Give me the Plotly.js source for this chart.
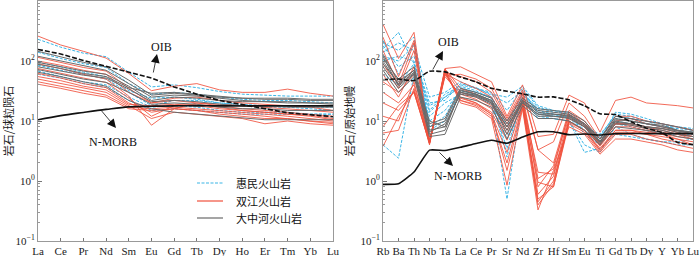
<!DOCTYPE html>
<html><head><meta charset="utf-8">
<script src="https://cdn.plot.ly/plotly-3.0.1.min.js"></script>
<style>html,body{margin:0;padding:0;background:#fff}#c{width:700px;height:256px}</style>
</head><body><div id="c"></div>
<script>
// ---- categories ----
const reeCats = ["La","Ce","Pr","Nd","Sm","Eu","Gd","Tb","Dy","Ho","Er","Tm","Yb","Lu"];
const spiderCats = ["Rb","Ba","Th","Nb","Ta","La","Ce","Pr","Sr","Nd","Zr","Hf","Sm","Eu","Ti","Gd","Tb","Dy","Y","Yb","Lu"];
const groupNames = ["惠民火山岩","双江火山岩","大中河火山岩"];
const yTickVals = [0.1,1,10,100,1000];
const yTickText = ["10<sup>−1</sup>","10<sup>0</sup>","10<sup>1</sup>","10<sup>2</sup>","10<sup>3</sup>"];

// ---- reference curves ----
const oibREE   = [156,131,102,82,65,52,37,28,22,18.7,15.8,13.7,12.7,11.8];
const nmorbREE = [10.5,12.3,13.9,15.6,17.2,17.6,17.9,17.9,17.9,17.8,17.9,17.9,17.9,17.9];
const oibPM    = [48.8,50.1,47.1,67.3,65.9,53.9,45.1,35.1,31.3,28.4,25.0,25.2,22.5,17.9,13.2,12.8,9.7,7.6,6.4,4.4,4.05];
const nmorbPM  = [0.88,0.90,1.41,3.27,3.22,3.64,4.23,4.78,4.27,5.39,6.61,6.63,5.92,6.07,5.85,6.17,6.2,6.17,6.15,6.19,6.15];

// ---- REE samples ----
const huiminREE = [
 [230,170,135,118,65,37,40,36,31,28,27,26,26,26],
 [95,80,65,55,32,24,25,23,20,18,17,17,16,15],
 [68,55,45,40,25,17,18,17,15,14,14,14,13,13],
 [60,52,42,36,22,15,16,15,14,13,13,13,13,13],
 [85,70,60,50,30,18,22,22,20,19,18,18,17,17],
 [140,110,90,78,42,28,30,28,25,23,22,22,21,20]
];
const shuangjiangREE = [
 [260,185,145,112,62,32,38,42,33,30,30,34,29,26],
 [115,95,78,68,35,20,24,25,22,20,19,18,17,15],
 [90,75,60,50,26,8.5,16,20,18,16,15,14,13,12],
 [75,62,52,44,24,12,18,19,17,15,14,13,12.5,11],
 [62,52,42,36,20,14,16,15,13,12,11,11,10,9.5],
 [55,47,38,33,19,18,19,18,16,15,14,13,12,10.5],
 [50,42,35,30,18,11,14,13,12,11,9,10,9,8.5],
 [45,38,32,27,17,16,17,16,15,14,13,12,11,10],
 [41,35,29,25,16,15,16,15,14,13,12,11,10,9],
 [100,85,70,60,30,20,22,20,19,18,17,16,15,14]
];
const dazhongheREE = [
 [145,118,95,80,48,27,29,27,25,24,23,23,22,22],
 [95,80,68,60,38,22,25,24,22,21,21,20,20,20],
 [80,68,58,52,34,21,22,21,19,18,18,17,17,17],
 [72,60,50,44,30,19,20,19,17,16,16,15,15,15],
 [120,100,82,70,42,25,27,26,24,22,21,21,20,19],
 [65,55,45,38,22,16,14,13,12,11,10.5,10.5,10.5,10.5],
 [88,75,62,55,36,29,30,28,26,24,24,24,23,23]
];

// ---- spider samples ----
const huiminPM = [
 [160,300,90,18,25,40,35,28,25,38,18,15,14,9,5.5,13,12,10,9,8,7],
 [200,150,250,8,12,35,30,25,8,30,15,13,12,8,4.5,10,9,8,7,6,6],
 [120,100,180,25,30,45,35,30,15,35,17,14,14,6,4,11,10,9,8,7,6.5],
 [4,2.4,60,12,20,28,26,20,0.5,25,12,11,10,3,3.5,6,5.5,5,4.5,4.5,5],
 [140,200,150,15,28,38,32,24,2.5,30,16,15,13,7,5,12,11,10,8,7.5,7],
 [100,120,100,10,15,32,28,22,5,28,14,13,11,7,4,9,8,7,6,6,5.5],
 [180,80,120,20,22,42,36,27,20,32,13,12,12,8,6,12,11,9,8,8,7.5],
 [220,60,200,7,10,30,27,20,3.5,25,11,11,10,4,3,8,6,5,4.5,4,4],
 [60,40,90,14,25,36,30,25,10,28,14,12,12,9,5,14,13,11,9,7,6]
];
const shuangjiangPM = [
 [410,110,300,4.5,75,80,60,45,12,40,5.5,6,27,20,6.5,22,25,20,19,18,16.5],
 [150,40,200,4.3,65,55,45,30,10,30,3.3,2,15,10,4.5,10,11,9,8,7,6],
 [45,30,60,4.2,70,30,25,18,8,22,1.4,1.3,12,8,4,9,9,8,7,6,5.5],
 [20,15,30,4.3,60,25,20,14,4.8,20,0.95,0.8,10,7,3.5,7,7,6,5.5,5,4.5],
 [6.3,7,35,4.0,72,22,18,12,2,18,0.5,0.8,9,6.5,3,6,6,5,4.5,4,3.5],
 [3.8,12,32,4.4,68,20,17,11,0.85,16,0.33,1.5,8,6,2.8,5,5,4.5,4,3.3,3],
 [90,35,150,4.5,62,45,35,25,9,28,1.1,1.6,14,9,4.2,9,9,8,7.5,6.5,5.5],
 [30,20,40,4.6,55,28,23,16,6,22,0.4,0.9,11,8,3.8,8,8,7,6,5.5,5],
 [60,25,80,4.3,74,35,28,20,7,25,0.8,1.8,13,8.5,4,9,8.5,7.5,6.5,6,5],
 [12,10,45,4.4,66,22,19,13,3,19,0.6,1.2,10,7,3.3,7,7,6.5,6,5,4],
 [250,55,220,4.8,58,60,50,35,11,33,3.3,4.5,20,12,5,12,12,10,9,8,7],
 [8,18,30,4.2,64,24,20,13,1.5,17,0.45,1.0,9.5,7,3.2,6.5,6.5,6,5,4.5,4]
];
const dazhonghePM = [
 [130,45,70,6,7,32,28,22,9,22,15,14,13,9,5,11,10,9,8,7,6.5],
 [100,40,65,7,8,30,26,20,8,20,13,13,12,8.5,4.5,10,9,8,7.5,6.5,6],
 [80,35,60,6.5,9,28,25,19,7,20,12,12,11,8,4.2,9,8.5,7.5,7,6,5.5],
 [110,50,80,9,11,35,30,24,10,24,16,15,14,10,5,12,11,10,9,8,7],
 [70,30,55,5.5,6,25,22,17,5,18,11,11,10,7,4,8,7.5,7,6.5,5.5,5],
 [90,42,70,8,10,33,28,22,6,22,14,13,12.5,9,4.6,10.5,10,9,8.5,7,6.5],
 [120,38,62,10,8,30,27,21,8,21,13,12,11.5,8,4.4,9.5,9,8,7.5,6.8,6.2]
];

// ---- styles ----
const styles = [
  {color:"#3ab5e6", width:1, dash:"3px,1.5px"},
  {color:"#f0503c", width:1, dash:"solid"},
  {color:"#6a6a6a", width:1, dash:"solid"}
];

const traces = [];
function addGroup(rows, cats, gi, xa, ya){
  rows.forEach((r,i)=>{
    traces.push({x:cats, y:r, xaxis:xa, yaxis:ya, mode:"lines", type:"scatter",
      line:styles[gi], opacity: gi===1 ? 0.85 : 1, name:groupNames[gi], showlegend:false, hoverinfo:"skip"});
  });
}
addGroup(huiminREE, reeCats, 0, "x", "y");
addGroup(shuangjiangREE, reeCats, 1, "x", "y");
addGroup(dazhongheREE, reeCats, 2, "x", "y");
addGroup(huiminPM, spiderCats, 0, "x2", "y2");
addGroup(shuangjiangPM, spiderCats, 1, "x2", "y2");
addGroup(dazhonghePM, spiderCats, 2, "x2", "y2");

traces.push({x:reeCats, y:oibREE, xaxis:"x", yaxis:"y", mode:"lines", line:{color:"#111",width:1.6,dash:"5px,2px"}, showlegend:false});
traces.push({x:reeCats, y:nmorbREE, xaxis:"x", yaxis:"y", mode:"lines", line:{color:"#111",width:1.6,shape:"spline"}, showlegend:false});
traces.push({x:spiderCats, y:oibPM, xaxis:"x2", yaxis:"y2", mode:"lines", line:{color:"#111",width:1.6,dash:"5px,2px",shape:"spline",smoothing:0.5}, showlegend:false});
traces.push({x:spiderCats, y:nmorbPM, xaxis:"x2", yaxis:"y2", mode:"lines", line:{color:"#111",width:1.6,shape:"spline",smoothing:0.4}, showlegend:false});

const serif = "Liberation Serif, Times New Roman, serif";
const cjk = "Noto Sans CJK SC";
const minorVals = [];
[0.1,1,10,100].forEach(d=>{for(let k=2;k<=9;k++) minorVals.push(d*k);});

function xAxis(cats, dom, anchor){
  return {domain:dom, anchor:anchor, type:"category", categoryarray:cats,
    range:[0, cats.length-1], showline:true, mirror:true, linecolor:"#999", linewidth:1,
    ticks:"inside", ticklen:3, tickcolor:"#777", showgrid:false, zeroline:false, tickangle:0,
    tickfont:{family:serif, size:11, color:"#222"}, fixedrange:true};
}
function yAxis(title, anchor){
  return {type:"log", range:[-1,3], anchor:anchor, showline:true, mirror:true, linecolor:"#999", linewidth:1,
    tickmode:"array", tickvals:yTickVals, ticktext:yTickText, ticks:"inside", ticklen:4, tickcolor:"#777",
    minor:{tickmode:"array", tickvals:minorVals, ticks:"inside", ticklen:2, tickcolor:"#999", showgrid:false},
    showgrid:false, zeroline:false, tickfont:{family:serif, size:11, color:"#222"},
    title:{text:title, font:{family:cjk, size:11, color:"#222"}, standoff:3}, fixedrange:true};
}

const W = 655, H = 240;
function px(x){return (x-38)/W;}
function py(y){return (241-y)/H;}
const txt = (t,x,y,fam,size,anchor)=>({text:t, xref:"paper", yref:"paper", x:px(x), y:py(y), showarrow:false,
  font:{family:fam||serif, size:size||12, color:"#111"}, xanchor:anchor||"center", yanchor:"middle"});
const arr = (x,y,ax,ay)=>({text:"", xref:"paper", yref:"paper", x:px(x), y:py(y), ax:ax, ay:ay,
  showarrow:true, arrowhead:2, arrowsize:2.2, arrowwidth:0.8, arrowcolor:"#111"});

// manual legend (inside left panel)
const legendRows = [183, 201, 218];
const legendShapes = legendRows.map((yy,i)=>({type:"line", xref:"paper", yref:"paper",
  x0:px(197), x1:px(223), y0:py(yy), y1:py(yy), line:{color:styles[i].color, width:1.2, dash:styles[i].dash}}));
const legendTexts = legendRows.map((yy,i)=>txt(groupNames[i], 234, yy, cjk, 11, "left"));

const layout = {
  width:700, height:256, margin:{l:38, r:7, t:1, b:15}, paper_bgcolor:"#fff", plot_bgcolor:"#fff",
  xaxis: xAxis(reeCats, [0, px(333)], "y"),
  yaxis: yAxis("岩石/球粒陨石", "x"),
  xaxis2: xAxis(spiderCats, [px(383), 1], "y2"),
  yaxis2: yAxis("岩石/原始地幔", "x2"),
  showlegend:false,
  shapes: legendShapes,
  annotations:[
    txt("OIB",161,47), arr(157,54,-4,20),
    txt("N-MORB",113,142), arr(116,128,-16,-19),
    txt("OIB",448,42), arr(443,51,-11,20),
    txt("N-MORB",458,176), arr(453,166,-15,-15)
  ].concat(legendTexts)
};
Plotly.newPlot("c", traces, layout, {staticPlot:true, displayModeBar:false});
</script></body></html>
